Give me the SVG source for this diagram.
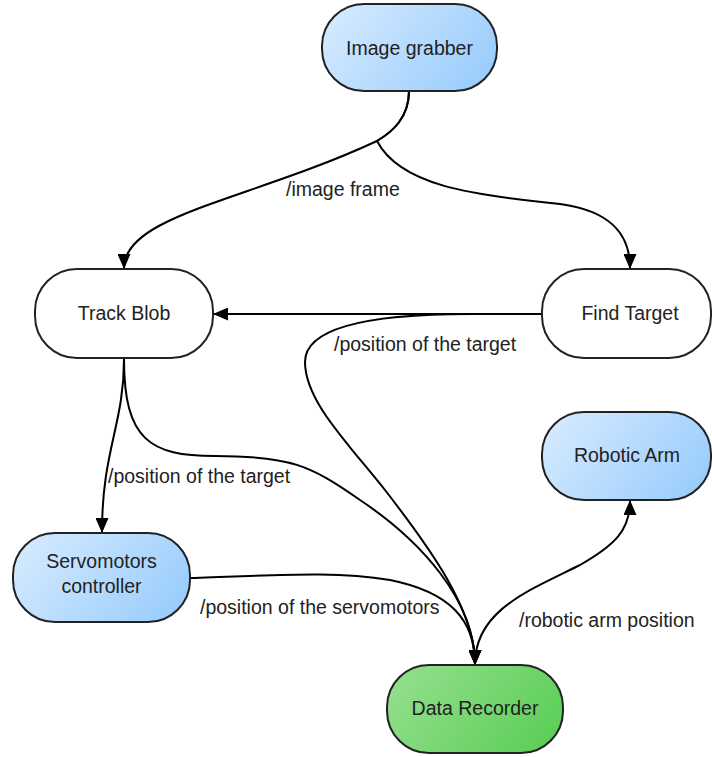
<svg xmlns="http://www.w3.org/2000/svg" width="712" height="757" viewBox="0 0 712 757">
  <style>
    .node { stroke: #222; stroke-width: 2; }
    .plain { fill: #ffffff; }
    .blue { fill: url(#gBlue); }
    .green { fill: url(#gGreen); }
    .label { font-family: "Liberation Sans", Arial, sans-serif; font-size: 19.5px; fill: #222; text-anchor: middle; }
    .edge-label { font-family: "Liberation Sans", Arial, sans-serif; font-size: 19.5px; fill: #222; }
    .edge { fill: none; stroke: #000; stroke-width: 2; }
  </style>
  <defs>
    <linearGradient id="gBlue" x1="0" y1="0.3" x2="1" y2="0.7">
      <stop offset="0" stop-color="#d3e9ff"/>
      <stop offset="1" stop-color="#9acdfc"/>
    </linearGradient>
    <linearGradient id="gGreen" x1="0" y1="0.3" x2="1" y2="0.7">
      <stop offset="0" stop-color="#92de8c"/>
      <stop offset="1" stop-color="#5ccf57"/>
    </linearGradient>
    <marker id="arrow" markerWidth="15" markerHeight="13" refX="14" refY="6.5" orient="auto-start-reverse" markerUnits="userSpaceOnUse">
      <path d="M0,0 L15,6.5 L0,13 z" fill="#000"/>
    </marker>
  </defs>

  <g id="connectors">
    <!-- Image grabber to Track Blob -->
    <path class="edge" d="M409,91 C409,118 392,132 377,141 C250,200 124,215 124,268" marker-end="url(#arrow)"/>
    <!-- Image grabber to Find Target -->
    <path class="edge" d="M409,91 C409,118 392,132 377,141 C400,185 470,195 560,204 C612,211 630,235 630,268" marker-end="url(#arrow)"/>
    <!-- Find Target to Track Blob -->
    <path class="edge" d="M542,314 L214,314" marker-end="url(#arrow)"/>
    <!-- Find Target to Data Recorder -->
    <path class="edge" d="M542,314 L470,314 C360,314 305,330 305,362 C305,400 345,440 385,490 C430,548 475,610 475,664" marker-end="url(#arrow)"/>
    <!-- Track Blob to Servomotors controller -->
    <path class="edge" d="M124,359 C124,425 102,450 102,532" marker-end="url(#arrow)"/>
    <!-- Track Blob to Data Recorder -->
    <path class="edge" d="M124,359 C124,440 150,456 215,456 C290,456 310,465 360,500 C420,540 475,600 475,664" marker-end="url(#arrow)"/>
    <!-- Servomotors controller to Data Recorder -->
    <path class="edge" d="M190,578 C270,576 330,570 390,580 C450,592 475,620 475,664" marker-end="url(#arrow)"/>
    <!-- Data Recorder to Robotic Arm -->
    <path class="edge" d="M475,664 C475,610 530,590 580,565 C615,545 630,530 630,501" marker-start="url(#arrow)" marker-end="url(#arrow)"/>

    <text class="edge-label" x="286" y="196">/image frame</text>
    <text class="edge-label" x="334" y="351">/position of the target</text>
    <text class="edge-label" x="108" y="483">/position of the target</text>
    <text class="edge-label" x="200" y="614">/position of the servomotors</text>
    <text class="edge-label" x="519" y="627">/robotic arm position</text>
  </g>

  <g id="image-grabber">
    <rect class="node blue" x="322" y="4" width="175" height="87" rx="42" ry="42"/>
    <text class="label" x="409.5" y="55">Image grabber</text>
  </g>

  <g id="track-blob">
    <rect class="node plain" x="35" y="269" width="178" height="89" rx="42" ry="42"/>
    <text class="label" x="124" y="320">Track Blob</text>
  </g>

  <g id="find-target">
    <rect class="node plain" x="542" y="269" width="169" height="89" rx="42" ry="42"/>
    <text class="label" x="630" y="320">Find Target</text>
  </g>

  <g id="robotic-arm">
    <rect class="node blue" x="542" y="412" width="169" height="88" rx="42" ry="42"/>
    <text class="label" x="627" y="462">Robotic Arm</text>
  </g>

  <g id="servomotors-controller">
    <rect class="node blue" x="13" y="533" width="177" height="89" rx="42" ry="42"/>
    <text class="label" x="101.5" y="568">Servomotors</text>
    <text class="label" x="101.5" y="593">controller</text>
  </g>

  <g id="data-recorder">
    <rect class="node green" x="387" y="665" width="176" height="88" rx="42" ry="42"/>
    <text class="label" x="475" y="715">Data Recorder</text>
  </g>
</svg>
